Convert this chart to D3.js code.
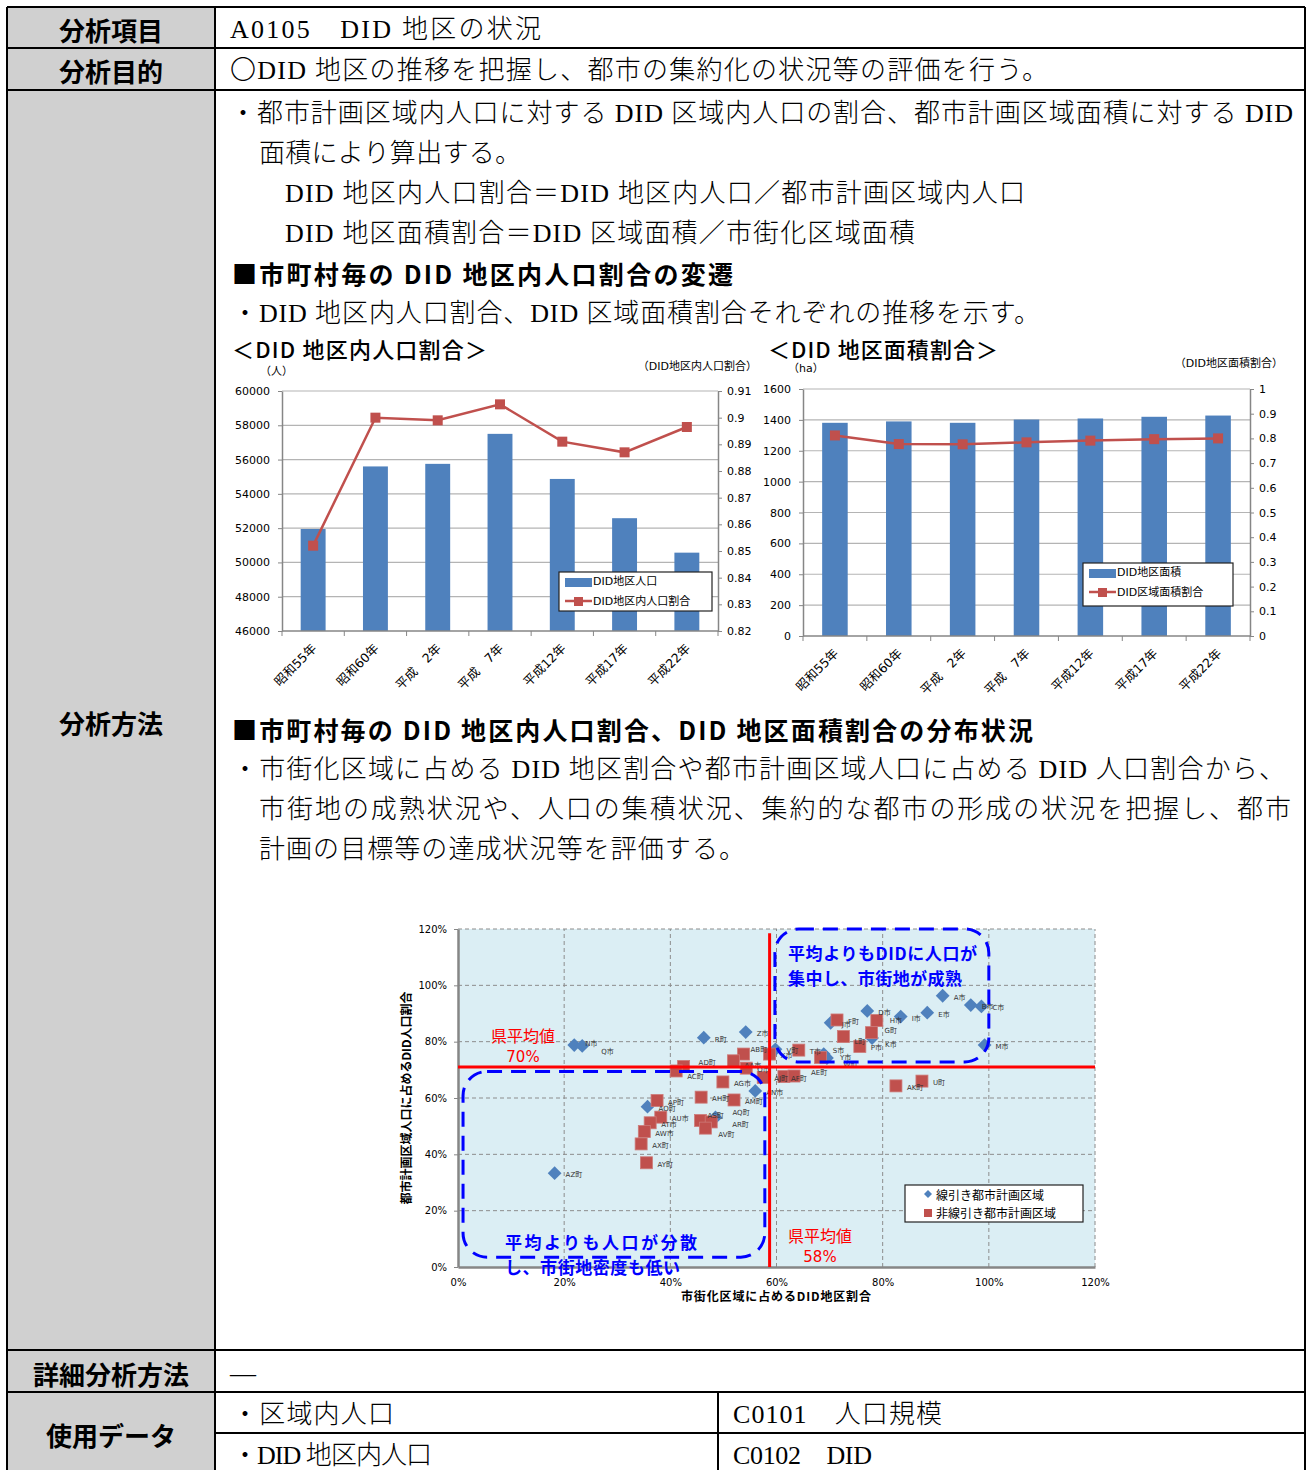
<!DOCTYPE html>
<html>
<head>
<meta charset="utf-8">
<script src="https://cdnjs.cloudflare.com/ajax/libs/d3/7.8.5/d3.min.js"></script>
<style>
    body { margin: 0; background: #fff; }
    svg { display: block; }
</style>
</head>
<body>
<div class="container"></div>
<script>
/*
    Data
*/
const years = ["昭和55年", "昭和60年", "平成　2年", "平成　7年", "平成12年", "平成17年", "平成22年"];
const did_population = [51950, 55600, 55750, 57500, 54870, 52580, 50570];
const did_population_ratio = [0.852, 0.900, 0.899, 0.905, 0.891, 0.887, 0.8965];
const did_area = [1381, 1390, 1381, 1402, 1409, 1420, 1428];
const did_area_ratio = [0.812, 0.777, 0.776, 0.784, 0.791, 0.797, 0.800];

const population_ticks = [46000, 48000, 50000, 52000, 54000, 56000, 58000, 60000];
const population_ratio_ticks = [0.82, 0.83, 0.84, 0.85, 0.86, 0.87, 0.88, 0.89, 0.9, 0.91];
const area_ticks = [0, 200, 400, 600, 800, 1000, 1200, 1400, 1600];
const area_ratio_ticks = [0, 0.1, 0.2, 0.3, 0.4, 0.5, 0.6, 0.7, 0.8, 0.9, 1];

// scatter: x = 市街化区域に占めるDID地区割合, y = 都市計画区域人口に占めるDID人口割合
const senbiki_names = ["A市", "B市", "C市", "D市", "E市", "I市", "J市", "K市", "M市", "N市", "Q市", "R町", "Z市", "V町", "S市", "Y市", "AN市", "AO町", "AQ町", "AZ町"];
const senbiki_x = [0.913, 0.966, 0.986, 0.771, 0.884, 0.834, 0.702, 0.780, 0.992, 0.219, 0.234, 0.463, 0.542, 0.598, 0.689, 0.695, 0.560, 0.357, 0.485, 0.182];
const senbiki_y = [0.963, 0.930, 0.925, 0.909, 0.903, 0.889, 0.867, 0.813, 0.788, 0.788, 0.785, 0.814, 0.834, 0.773, 0.756, 0.742, 0.625, 0.569, 0.531, 0.333];

const hisenbiki_names = ["F町", "H市", "L町", "G町", "P市", "T市", "X市", "W町", "AB町", "AA市", "O市", "AJ町", "AF町", "AE町", "AD町", "AC町", "AG市", "AH町", "AM町", "AP町", "AU市", "AT市", "AW市", "AX町", "AS町", "AR町", "AV町", "AY町", "U町", "AK町"];
const hisenbiki_x = [0.714, 0.789, 0.726, 0.779, 0.757, 0.642, 0.587, 0.683, 0.538, 0.519, 0.543, 0.575, 0.614, 0.633, 0.425, 0.411, 0.499, 0.458, 0.520, 0.375, 0.382, 0.362, 0.351, 0.345, 0.457, 0.477, 0.466, 0.355, 0.874, 0.825];
const hisenbiki_y = [0.877, 0.875, 0.818, 0.832, 0.783, 0.770, 0.756, 0.744, 0.756, 0.732, 0.706, 0.673, 0.676, 0.678, 0.712, 0.696, 0.657, 0.603, 0.593, 0.591, 0.532, 0.512, 0.481, 0.437, 0.520, 0.515, 0.493, 0.370, 0.660, 0.643];

const percent_ticks = [0, 0.2, 0.4, 0.6, 0.8, 1.0, 1.2];
const pref_avg_area = 0.587;      // 県平均値 58%
const pref_avg_population = 0.71; // 県平均値 70%

/*
    Page setup
*/
const font_mincho = "'Liberation Serif','Noto Sans CJK JP',serif";
const font_gothic = "'Noto Sans CJK JP','DejaVu Sans',sans-serif";
const font_chart = "'DejaVu Sans','Noto Sans CJK JP',sans-serif";

const svg = d3.select(".container").append("svg")
                .attr("width", 1309)
                .attr("height", 1470);

function put_text(g, x, y, str, o) {
    o = o || {};
    let t = g.append("text")
                .attr("x", x)
                .attr("y", y)
                .attr("dominant-baseline", "central")
                .attr("font-family", o.family || font_gothic)
                .attr("font-size", o.size || 12)
                .attr("font-weight", o.weight || 400)
                .attr("fill", o.fill || "#000")
                .attr("text-anchor", o.anchor || "start")
                .text(str);
    if (o.width) t.attr("textLength", o.width).attr("lengthAdjust", "spacing");
    return t;
}

/* Table frame */
const table = svg.append("g");
table.append("rect").attr("x", 7).attr("y", 7).attr("width", 208).attr("height", 1470).attr("fill", "#d0d0d0");

[[7, 7, 1305, 7], [7, 48, 1305, 48], [7, 90, 1305, 90], [7, 1350, 1305, 1350], [7, 1392, 1305, 1392],
 [215, 1433, 1305, 1433], [7, 7, 7, 1480], [215, 7, 215, 1480], [1305, 7, 1305, 1480], [718, 1392, 718, 1480]]
    .forEach(l => {
        table.append("line")
            .attr("x1", l[0]).attr("y1", l[1]).attr("x2", l[2]).attr("y2", l[3])
            .attr("stroke", "#000").attr("stroke-width", 2);
    });

[["分析項目", 29], ["分析目的", 70], ["分析方法", 722], ["詳細分析方法", 1373], ["使用データ", 1434]]
    .forEach(r => put_text(table, 111, r[1], r[0], {size: 26, weight: 700, anchor: "middle"}));

/* Body text */
const body_lines = [
    ["A0105　DID 地区の状況", 230, 29, 311],
    ["〇DID 地区の推移を把握し、都市の集約化の状況等の評価を行う。", 230, 70, 818],
    ["・都市計画区域内人口に対する DID 区域内人口の割合、都市計画区域面積に対する DID", 230, 113, 1063],
    ["面積により算出する。", 259, 153, 262],
    ["DID 地区内人口割合＝DID 地区内人口／都市計画区域内人口", 285, 193, 740],
    ["DID 地区面積割合＝DID 区域面積／市街化区域面積", 285, 233, 630],
    ["・DID 地区内人口割合、DID 区域面積割合それぞれの推移を示す。", 232, 313, 808],
    ["・市街化区域に占める DID 地区割合や都市計画区域人口に占める DID 人口割合から、", 232, 769, 1053],
    ["市街地の成熟状況や、人口の集積状況、集約的な都市の形成の状況を把握し、都市", 259, 809, 1032],
    ["計画の目標等の達成状況等を評価する。", 259, 849, 486],
    ["—", 230, 1373, 28],
    ["・区域内人口", 232, 1414, 162],
    ["C0101　人口規模", 733, 1414, 209],
    ["・DID 地区内人口", 232, 1455, 200],
    ["C0102　DID", 733, 1455, 139]
];
body_lines.forEach(l => put_text(svg, l[1], l[2], l[0], {family: font_mincho, size: 26, weight: 300, width: l[3]}));

put_text(svg, 232, 273, "■市町村毎の DID 地区内人口割合の変遷", {size: 25, weight: 700, width: 501});
put_text(svg, 232, 729, "■市町村毎の DID 地区内人口割合、DID 地区面積割合の分布状況", {size: 25, weight: 700, width: 801});
put_text(svg, 232, 348, "＜DID 地区内人口割合＞", {size: 22, weight: 500, width: 255});
put_text(svg, 768, 348, "＜DID 地区面積割合＞", {size: 22, weight: 500, width: 230});

/*
    Bar + line charts
*/
function draw_combo(cfg) {
    const g = svg.append("g");
    const x = d3.scaleBand().domain(years).range([cfg.left, cfg.right]).paddingInner(0.6).paddingOuter(0.3);
    const y = d3.scaleLinear().domain(cfg.bar_domain).range([cfg.bottom, cfg.top]);
    const y2 = d3.scaleLinear().domain(cfg.line_domain).range([cfg.bottom, cfg.top]);

    // gridlines
    g.selectAll(".grid").data(cfg.bar_ticks.slice(1)).join("line")
        .attr("x1", cfg.left).attr("x2", cfg.right)
        .attr("y1", d => y(d)).attr("y2", d => y(d))
        .attr("stroke", "#b4b4b4").attr("stroke-width", 1.2);

    // bars
    g.selectAll(".bar").data(cfg.bars).join("rect")
        .attr("x", (d, i) => x(years[i]))
        .attr("y", d => y(d))
        .attr("width", x.bandwidth())
        .attr("height", d => cfg.bottom - y(d))
        .attr("fill", "#4f81bd");

    // axes
    let left_axis = g.append("g").attr("transform", `translate(${cfg.left},0)`)
                        .call(d3.axisLeft(y).tickValues(cfg.bar_ticks).tickSize(4).tickSizeOuter(0).tickFormat(d => String(d)));
    let right_axis = g.append("g").attr("transform", `translate(${cfg.right},0)`)
                        .call(d3.axisRight(y2).tickValues(cfg.line_ticks).tickSize(4).tickSizeOuter(0).tickFormat(d3.format("~g")));
    [left_axis, right_axis].forEach(a => {
        a.select(".domain").attr("stroke", "#868686").attr("stroke-width", 1.5);
        a.selectAll(".tick line").attr("stroke", "#868686");
        a.selectAll(".tick text").attr("font-family", font_chart).attr("font-size", 11).attr("fill", "#000");
    });
    left_axis.selectAll(".tick text").attr("x", -12);
    right_axis.selectAll(".tick text").attr("x", 9);

    const step = x.step();
    g.append("line").attr("x1", cfg.left).attr("x2", cfg.right).attr("y1", cfg.bottom).attr("y2", cfg.bottom)
        .attr("stroke", "#868686").attr("stroke-width", 1.5);
    g.selectAll(".xtick").data(d3.range(years.length + 1)).join("line")
        .attr("x1", i => cfg.left + i * step).attr("x2", i => cfg.left + i * step)
        .attr("y1", cfg.bottom).attr("y2", cfg.bottom + 5)
        .attr("stroke", "#868686");

    // category labels, slanted
    years.forEach(yr => {
        g.append("text")
            .attr("transform", `translate(${x(yr) + x.bandwidth() / 2 + 1},${cfg.bottom + 15}) rotate(-45)`)
            .attr("text-anchor", "end")
            .attr("dominant-baseline", "central")
            .attr("font-family", font_chart)
            .attr("font-size", 12.5)
            .text(yr);
    });

    // ratio line
    const cx = i => x(years[i]) + x.bandwidth() / 2;
    g.append("path")
        .datum(cfg.line)
        .attr("d", d3.line().x((d, i) => cx(i)).y(d => y2(d)))
        .attr("fill", "none").attr("stroke", "#c0504d").attr("stroke-width", 2.5);
    g.selectAll(".mark").data(cfg.line).join("rect")
        .attr("x", (d, i) => cx(i) - 5).attr("y", d => y2(d) - 5)
        .attr("width", 10).attr("height", 10)
        .attr("fill", "#c0504d");

    // units
    put_text(g, cfg.unit_x, cfg.unit_y, cfg.unit, {family: font_chart, size: 11});
    put_text(g, cfg.unit2_x, cfg.unit2_y, cfg.unit2, {family: font_chart, size: 11, anchor: "end"});

    // legend
    const lg = cfg.legend;
    g.append("rect").attr("x", lg.x).attr("y", lg.y).attr("width", lg.w).attr("height", lg.h)
        .attr("fill", "#fff").attr("stroke", "#222").attr("stroke-width", 1.2);
    g.append("rect").attr("x", lg.x + 6).attr("y", lg.y + 6).attr("width", 27).attr("height", 9).attr("fill", "#4f81bd");
    put_text(g, lg.x + 34, lg.y + 9, cfg.bar_name, {family: font_chart, size: 11});
    g.append("line").attr("x1", lg.x + 6).attr("x2", lg.x + 33).attr("y1", lg.y + 29).attr("y2", lg.y + 29)
        .attr("stroke", "#c0504d").attr("stroke-width", 2.5);
    g.append("rect").attr("x", lg.x + 15).attr("y", lg.y + 25).attr("width", 9).attr("height", 9).attr("fill", "#c0504d");
    put_text(g, lg.x + 34, lg.y + 29, cfg.line_name, {family: font_chart, size: 11});
}

draw_combo({
    left: 282, right: 718, top: 391, bottom: 631,
    bars: did_population, line: did_population_ratio,
    bar_domain: [46000, 60000], line_domain: [0.82, 0.91],
    bar_ticks: population_ticks, line_ticks: population_ratio_ticks,
    unit: "（人）", unit_x: 260, unit_y: 371,
    unit2: "（DID地区内人口割合）", unit2_x: 757, unit2_y: 366,
    bar_name: "DID地区人口", line_name: "DID地区内人口割合",
    legend: {x: 559, y: 572, w: 153, h: 39}
});

draw_combo({
    left: 803, right: 1250, top: 389, bottom: 636,
    bars: did_area, line: did_area_ratio,
    bar_domain: [0, 1600], line_domain: [0, 1],
    bar_ticks: area_ticks, line_ticks: area_ratio_ticks,
    unit: "（ha）", unit_x: 788, unit_y: 368,
    unit2: "（DID地区面積割合）", unit2_x: 1283, unit2_y: 363,
    bar_name: "DID地区面積", line_name: "DID区域面積割合",
    legend: {x: 1083, y: 563, w: 150, h: 43}
});

/*
    Scatter
*/
const sc = svg.append("g");
const sx = d3.scaleLinear().domain([0, 1.2]).range([458, 1095]);
const sy = d3.scaleLinear().domain([0, 1.2]).range([1267, 929]);

sc.append("rect").attr("x", sx(0)).attr("y", sy(1.2)).attr("width", sx(1.2) - sx(0)).attr("height", sy(0) - sy(1.2))
    .attr("fill", "#dbeef4");

sc.selectAll(".vgrid").data(percent_ticks.slice(1)).join("line")
    .attr("x1", d => sx(d)).attr("x2", d => sx(d)).attr("y1", sy(0)).attr("y2", sy(1.2))
    .attr("stroke", "#8c8c8c").attr("stroke-dasharray", "4,3");
sc.selectAll(".hgrid").data(percent_ticks.slice(1)).join("line")
    .attr("x1", sx(0)).attr("x2", sx(1.2)).attr("y1", d => sy(d)).attr("y2", d => sy(d))
    .attr("stroke", "#8c8c8c").attr("stroke-dasharray", "4,3");

let sx_axis = sc.append("g").attr("transform", `translate(0,${sy(0)})`)
                .call(d3.axisBottom(sx).tickValues(percent_ticks).tickSize(0).tickFormat(d3.format(".0%")));
let sy_axis = sc.append("g").attr("transform", `translate(${sx(0)},0)`)
                .call(d3.axisLeft(sy).tickValues(percent_ticks).tickSize(4).tickSizeOuter(0).tickFormat(d3.format(".0%")));
[sx_axis, sy_axis].forEach(a => {
    a.select(".domain").attr("stroke", "#868686").attr("stroke-width", 2.5);
    a.selectAll(".tick line").attr("stroke", "#868686");
    a.selectAll(".tick text").attr("font-family", font_chart).attr("font-size", 10).attr("fill", "#000");
});
sx_axis.selectAll(".tick text").attr("y", 12);
sy_axis.selectAll(".tick text").attr("x", -11);

/* points */
const diamond = d3.symbol(d3.symbolSquare, 95);
senbiki_names.forEach((n, i) => {
    sc.append("path").attr("d", diamond)
        .attr("transform", `translate(${sx(senbiki_x[i])},${sy(senbiki_y[i])}) rotate(45)`)
        .attr("fill", "#4f81bd");
});
hisenbiki_names.forEach((n, i) => {
    sc.append("rect")
        .attr("x", sx(hisenbiki_x[i]) - 6).attr("y", sy(hisenbiki_y[i]) - 6)
        .attr("width", 12).attr("height", 12)
        .attr("fill", "#c0504d").attr("stroke", "#cd7a78").attr("stroke-width", 0.8);
});

// a few labels nudged apart where points crowd together
const label_nudge = {"S市": [-2, -5], "Y市": [2, -2], "W町": [12, 6], "AB町": [-4, -6], "AA市": [0, 3],
                     "AS町": [-4, -7], "AR町": [10, 1], "AV町": [2, 5], "AQ町": [6, -6], "AF町": [-4, 0], "AE町": [6, -5],
                     "L町": [0, 3], "G町": [2, -4], "K市": [2, 5], "H市": [2, -2],
                     "N市": [0, -3], "Q市": [8, 4], "AD町": [4, -5], "AC町": [0, 4]};
senbiki_names.concat(hisenbiki_names).forEach((n, i) => {
    let px = i < senbiki_names.length ? senbiki_x[i] : hisenbiki_x[i - senbiki_names.length];
    let py = i < senbiki_names.length ? senbiki_y[i] : hisenbiki_y[i - senbiki_names.length];
    let nd = label_nudge[n] || [0, 0];
    put_text(sc, sx(px) + 11 + nd[0], sy(py) + 2 + nd[1], n, {family: font_chart, size: 7, fill: "#333"});
});

/* annotation boxes */
const box_mature = {x0: 0.597, x1: 1.0, y0: 0.728, y1: 1.2};
const box_sparse = {x0: 0.0095, x1: 0.578, y0: 0.035, y1: 0.694};
[box_mature, box_sparse].forEach(b => {
    sc.append("rect")
        .attr("x", sx(b.x0)).attr("y", sy(b.y1))
        .attr("width", sx(b.x1) - sx(b.x0)).attr("height", sy(b.y0) - sy(b.y1))
        .attr("rx", 24).attr("ry", 24)
        .attr("fill", "none").attr("stroke", "#0000ff").attr("stroke-width", 3)
        .attr("stroke-dasharray", "15,9");
});

/* prefecture average lines */
sc.append("line").attr("x1", sx(0)).attr("x2", sx(1.2)).attr("y1", sy(pref_avg_population)).attr("y2", sy(pref_avg_population))
    .attr("stroke", "#ff0000").attr("stroke-width", 3);
sc.append("line").attr("x1", sx(pref_avg_area)).attr("x2", sx(pref_avg_area)).attr("y1", sy(1.185)).attr("y2", sy(0))
    .attr("stroke", "#ff0000").attr("stroke-width", 3);

put_text(sc, 523, 1035, "県平均値", {size: 16, fill: "#ff0000", anchor: "middle"});
put_text(sc, 523, 1057, "70%", {family: font_chart, size: 15, fill: "#ff0000", anchor: "middle"});
put_text(sc, 820, 1235, "県平均値", {size: 16, fill: "#ff0000", anchor: "middle"});
put_text(sc, 820, 1257, "58%", {family: font_chart, size: 15, fill: "#ff0000", anchor: "middle"});

put_text(sc, 788, 952, "平均よりもDIDに人口が", {size: 17, weight: 700, fill: "#0000ff", width: 189});
put_text(sc, 788, 977, "集中し、市街地が成熟", {size: 17, weight: 700, fill: "#0000ff", width: 174});
put_text(sc, 505, 1241, "平均よりも人口が分散", {size: 17, weight: 700, fill: "#0000ff", width: 192});
put_text(sc, 505, 1266, "し、市街地密度も低い", {size: 17, weight: 700, fill: "#0000ff", width: 175});

/* axis titles */
put_text(sc, 681, 1295, "市街化区域に占めるDID地区割合", {size: 12, weight: 700, width: 190});
sc.append("text")
    .attr("transform", "translate(405,1098) rotate(-90)")
    .attr("text-anchor", "middle")
    .attr("dominant-baseline", "central")
    .attr("font-family", font_gothic)
    .attr("font-size", 12)
    .attr("font-weight", 700)
    .text("都市計画区域人口に占めるDID人口割合");

/* legend */
sc.append("rect").attr("x", 905).attr("y", 1185).attr("width", 178).attr("height", 37)
    .attr("fill", "#fff").attr("stroke", "#222").attr("stroke-width", 1.2);
sc.append("path").attr("d", d3.symbol(d3.symbolSquare, 32))
    .attr("transform", "translate(928,1194) rotate(45)").attr("fill", "#4f81bd");
sc.append("rect").attr("x", 924).attr("y", 1209).attr("width", 8).attr("height", 8).attr("fill", "#c0504d");
put_text(sc, 936, 1194, "線引き都市計画区域", {size: 12});
put_text(sc, 936, 1212, "非線引き都市計画区域", {size: 12});
</script>
</body>
</html>
